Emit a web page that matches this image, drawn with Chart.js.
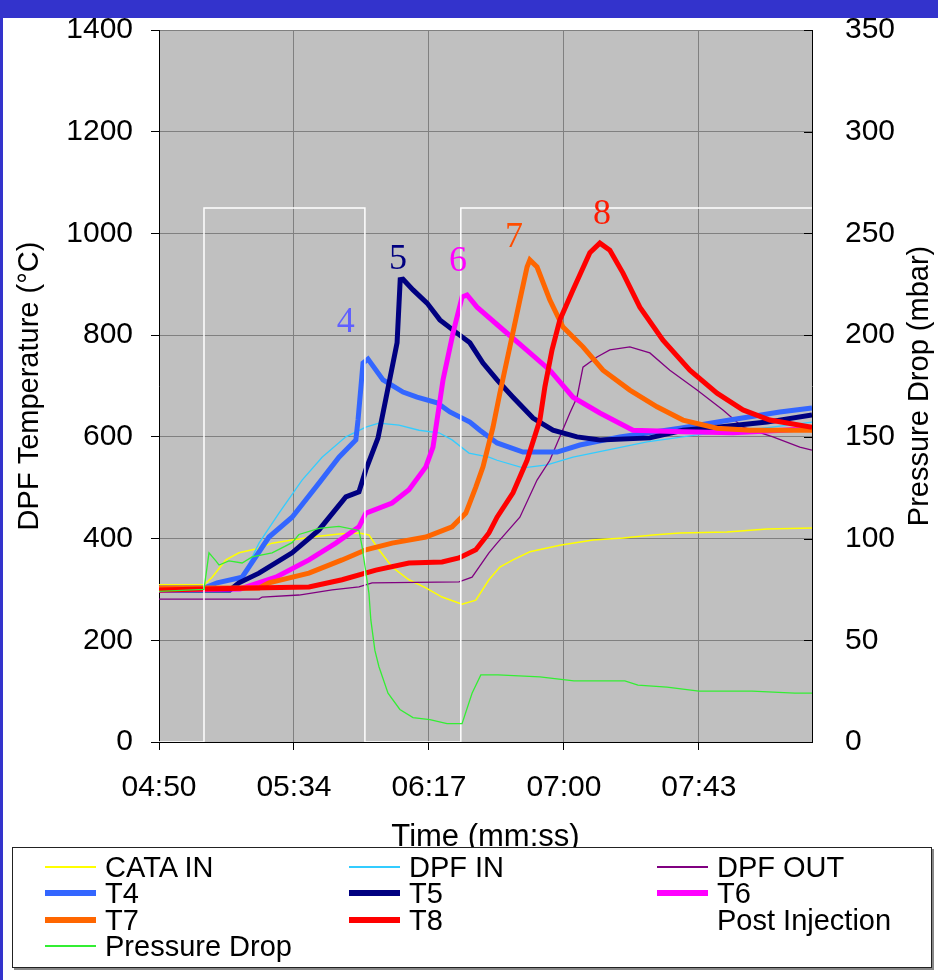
<!DOCTYPE html>
<html>
<head>
<meta charset="utf-8">
<script src="https://cdn.jsdelivr.net/npm/chart.js@4.4.1/dist/chart.umd.min.js"></script>
<style>
  body { margin: 0; background: #fff; }
  #wrap { position: relative; width: 938px; height: 980px; overflow: hidden; background: #fff; }
  #chart { position: absolute; left: 0; top: 0; }
  .topbar { position: absolute; left: 0; top: 0; width: 938px; height: 18px; background: #3333cc; }
  .leftbar { position: absolute; left: 0; top: 0; width: 3px; height: 980px; background: #3333cc; }
  #legend {
    position: absolute; left: 12px; top: 847px; width: 920px; height: 121px;
    box-sizing: border-box; border: 1.5px solid #222; background: #fff;
    box-shadow: 2px 2px 0 #888; padding-top: 6px;
    display: grid; grid-template-columns: 304px 308px 1fr; grid-auto-rows: 26.3px;
    font-family: 'Liberation Sans', Arial, sans-serif; font-size: 29px; color: #000;
  }
  #legend .item { display: flex; align-items: center; line-height: 26px; white-space: nowrap; }
  #legend .swatch { display: inline-block; width: 51px; margin-left: 32px; margin-right: 9px; }
</style>
</head>
<body>
<div id="wrap">
  <canvas id="chart" width="938" height="980"></canvas>
  <div class="topbar"></div>
  <div class="leftbar"></div>
  <div id="legend"></div>
</div>
<script>
/* 데이터 — [시간(초), 값] */
const xTickValues = [290, 333.2, 376.4, 419.6, 462.8];
const xTickLabels = ['04:50', '05:34', '06:17', '07:00', '07:43'];

const cataIn = [[290,309],[304.4,309],[307,324],[311.4,358],[315.6,372],[322,381],[326.2,391],[332.6,397],[339,403],[347.6,409],[354,411],[357.2,407],[360.4,378],[364.6,344],[370,319],[375.4,303],[380.6,285],[387,271],[391.4,279],[395.6,319],[399.1,344],[403.3,358],[408.7,374],[418.3,387],[428.9,397],[438.5,401],[448.1,407],[456.7,411],[471.8,413],[484.6,419],[499,421]];
const dpfIn = [[290,295],[312.7,295],[317.8,338],[322,391],[328.4,450],[335.8,515],[342.2,560],[349.8,600],[356.2,619],[360.4,627],[366.8,623],[373.2,613],[379.6,608],[383.8,594],[389.2,568],[395.6,560],[398.2,554],[406.5,539],[414.2,545],[422.5,560],[433.4,574],[446.2,590],[462.2,604],[478.2,613],[499,629]];
const dpfOut = [[290,281],[322,281],[323,285],[334.8,289],[345.4,299],[354,305],[358.2,313],[386,315],[390.2,324],[395.6,372],[398.2,391],[405.5,442],[411,515],[415.1,554],[418.3,600],[421.5,647],[423.8,678],[425.7,737],[430.2,757],[434.3,771],[440.7,777],[447.1,765],[453.5,731],[462.2,692],[470.5,653],[476.9,619],[486.5,600],[495.1,580],[499,574]];
const t4 = [[290,303],[304.7,303],[308.6,313],[316.6,324],[325.2,403],[332.6,442],[341.2,509],[347.6,560],[353,594],[353.7,633],[355.3,745],[356.9,753],[361.7,712],[368.1,688],[372.6,678],[379,667],[383.1,649],[389.5,629],[392.7,613],[398.2,588],[406.5,570],[417.4,570],[424.7,584],[437.5,600],[456.7,617],[472.7,633],[488.7,649],[499,657]];
const t5 = [[290,299],[312.7,299],[315.6,313],[322,332],[332.6,372],[341.2,417],[349.8,482],[354,492],[356.2,535],[360.1,598],[366.2,785],[367.2,909],[368.1,910],[371.3,889],[375.8,863],[379.9,830],[385.4,804],[389.5,785],[393.7,745],[398.2,712],[403.3,678],[409.7,637],[416.1,613],[423.8,600],[431.1,594],[447.1,598],[457.7,613],[468.6,619],[484.6,629],[499,643]];
const t6 = [[290,299],[316,301],[327.4,324],[338,358],[346.6,391],[354,423],[356.2,450],[364.6,470],[370,496],[375.4,541],[377.7,580],[380.9,712],[384.1,804],[387,875],[388.6,879],[391.8,855],[399.1,816],[406.5,777],[415.1,731],[422.5,678],[431.1,647],[441.7,613],[457.7,610],[473.7,608],[489.7,613],[499,617]];
const t7 = [[290,303],[322,303],[325.2,313],[338,332],[348.6,358],[356.2,378],[364.6,391],[375.4,403],[383.8,423],[388.2,450],[391.4,501],[393.7,541],[396.9,619],[399.1,686],[402.3,777],[405.5,869],[407.8,934],[408.7,948],[411,934],[415.1,869],[419.3,816],[425.7,777],[432.1,731],[440.7,692],[449.4,659],[457.7,633],[468.6,617],[479.1,613],[499,613]];
const t8 = [[290,299],[319.8,303],[338,305],[348.6,319],[359.4,338],[370,352],[380.6,354],[386,362],[391.4,378],[395.6,411],[398.2,442],[403.3,490],[407.8,554],[411.9,633],[413.5,698],[415.8,771],[418.3,830],[422.5,889],[427.9,962],[431.1,981],[434.3,967],[438.5,922],[443.9,855],[451.3,790],[459.9,731],[468.6,686],[476.9,653],[485.5,633],[499,619]];
const postInjection = [[290,0],[304.4,0],[304.4,1050],[355.9,1050],[355.9,0],[386.6,0],[386.6,1050],[499,1050]];
const pressureDrop = [[290,74],[304.4,75],[306,93],[308.2,89],[309.2,87],[312.4,89],[316.6,88],[319.8,91],[326.2,93],[332.6,98],[334.8,102],[341.2,105],[347.6,106],[354,104],[355,96],[357.2,73],[357.8,60],[359.1,45],[360.4,37],[363.3,24],[367.1,16],[371.3,12],[376.7,11],[382.2,9],[387,9],[390.2,24],[393,33],[398.5,33],[411.9,32],[422.8,30],[439.1,30],[443.3,28],[452.6,27],[462.8,25],[479.8,25],[493.5,24],[499,24]];

/* 피크 번호 라벨 */
const peakLabels = ['4', '5', '6', '7', '8'];
const peakLabelTime = [349.8, 366.5, 385.7, 403.6, 431.8];
const peakLabelTemp = [824, 948, 944, 991, 1038];
const peakLabelColors = ['#5f5fff', '#000080', '#ff00ff', '#ff4d00', '#ff1a00'];

const FONT = "'Liberation Sans', Arial, sans-serif";

const SERIES = [
  { label: 'CATA IN', data: cataIn, color: '#ffff00', width: 1.5 },
  { label: 'DPF IN', data: dpfIn, color: '#33ccff', width: 1.3 },
  { label: 'DPF OUT', data: dpfOut, color: '#800080', width: 1.3 },
  { label: 'T4', data: t4, color: '#3366ff', width: 5 },
  { label: 'T5', data: t5, color: '#000080', width: 5 },
  { label: 'T6', data: t6, color: '#ff00ff', width: 5 },
  { label: 'T7', data: t7, color: '#ff6600', width: 5 },
  { label: 'T8', data: t8, color: '#ff0000', width: 5 },
  { label: 'Post Injection', data: postInjection, color: '#ffffff', width: 1.5 },
  { label: 'Pressure Drop', data: pressureDrop, color: '#33ee33', width: 1.3, axis: 'y1' },
];

/** 플롯 영역 배경 */
const plotBackground = {
  id: 'plotBackground',
  beforeDraw(chart) {
    const { ctx, chartArea: a } = chart;
    ctx.save();
    ctx.fillStyle = '#c0c0c0';
    ctx.fillRect(a.left, a.top, a.right - a.left, a.bottom - a.top);
    ctx.restore();
  },
};

/** 오른쪽 축 안쪽 눈금, 오른쪽 제목, 피크 번호 */
const extras = {
  id: 'extras',
  afterDraw(chart) {
    const { ctx, chartArea: a, scales } = chart;
    const y1 = scales.y1;
    ctx.save();
    ctx.strokeStyle = '#000';
    ctx.lineWidth = 1;
    y1.ticks.forEach((t) => {
      const py = Math.round(y1.getPixelForValue(t.value)) + 0.5;
      ctx.beginPath();
      ctx.moveTo(a.right - 8, py);
      ctx.lineTo(a.right, py);
      ctx.stroke();
    });

    ctx.translate(920, (a.top + a.bottom) / 2);
    ctx.rotate(-Math.PI / 2);
    ctx.fillStyle = '#000';
    ctx.font = `29px ${FONT}`;
    ctx.textAlign = 'center';
    ctx.textBaseline = 'middle';
    ctx.fillText('Pressure Drop (mbar)', 0, 0);
    ctx.restore();

    ctx.save();
    ctx.font = "36px 'Liberation Serif', 'Times New Roman', serif";
    ctx.textAlign = 'center';
    ctx.textBaseline = 'middle';
    peakLabels.forEach((txt, i) => {
      ctx.fillStyle = peakLabelColors[i];
      ctx.fillText(txt, scales.x.getPixelForValue(peakLabelTime[i]), scales.y.getPixelForValue(peakLabelTemp[i]));
    });
    ctx.restore();
  },
};

/** 축 크기 고정 — 눈금 여백이 플롯 영역을 밀어내지 않도록 */
function fixSize(prop, size) {
  return (s) => {
    s[prop] = size;
    s.paddingTop = 0;
    s.paddingBottom = 0;
    s.paddingLeft = 0;
    s.paddingRight = 0;
  };
}

const datasets = SERIES.map((s, i) => ({
  label: s.label,
  data: s.data.map(([x, y]) => ({ x, y })),
  borderColor: s.color,
  backgroundColor: s.color,
  borderWidth: s.width,
  pointRadius: 0,
  tension: 0,
  fill: false,
  yAxisID: s.axis || 'y',
  order: SERIES.length - i,
}));

new Chart(document.getElementById('chart'), {
  type: 'line',
  data: { datasets },
  options: {
    responsive: false,
    animation: false,
    devicePixelRatio: 1,
    layout: { padding: { top: 30, left: 0, right: 0, bottom: 0 } },
    plugins: { legend: { display: false }, tooltip: { enabled: false } },
    scales: {
      x: {
        type: 'linear',
        min: 290,
        max: 499,
        afterBuildTicks: (s) => { s.ticks = xTickValues.map((v) => ({ value: v })); },
        afterFit: fixSize('height', 238),
        ticks: {
          callback: (v, i) => xTickLabels[i],
          color: '#000',
          font: { family: FONT, size: 30 },
          padding: 20,
          maxRotation: 0,
          autoSkip: false,
        },
        grid: { color: '#808080', tickColor: '#000', tickLength: 8 },
        border: { color: '#000' },
        title: {
          display: true,
          text: 'Time (mm:ss)',
          color: '#000',
          font: { family: FONT, size: 31 },
          padding: { top: 0, bottom: 124 },
        },
      },
      y: {
        position: 'left',
        min: 0,
        max: 1400,
        afterFit: fixSize('width', 159),
        ticks: { stepSize: 200, callback: (v) => String(v), color: '#000', font: { family: FONT, size: 30 }, padding: 18 },
        grid: { color: '#808080', tickColor: '#000', tickLength: 8 },
        border: { color: '#000' },
        title: {
          display: true,
          text: 'DPF Temperature (°C)',
          color: '#000',
          font: { family: FONT, size: 29 },
          padding: { top: 13, bottom: 0 },
        },
      },
      y1: {
        position: 'right',
        min: 0,
        max: 350,
        afterFit: fixSize('width', 126),
        ticks: { stepSize: 50, callback: (v) => String(v), color: '#000', font: { family: FONT, size: 30 }, padding: 33 },
        grid: { drawOnChartArea: false, drawTicks: false },
        border: { color: '#000' },
      },
    },
  },
  plugins: [plotBackground, extras],
});

/* HTML 범례 */
const legendEl = document.getElementById('legend');
SERIES.forEach((s) => {
  const item = document.createElement('div');
  item.className = 'item';
  const sw = document.createElement('span');
  sw.className = 'swatch';
  sw.style.borderTop = `${s.width > 3 ? 6 : 2}px solid ${s.color}`;
  const txt = document.createElement('span');
  txt.textContent = s.label;
  item.appendChild(sw);
  item.appendChild(txt);
  legendEl.appendChild(item);
});
</script>
</body>
</html>
